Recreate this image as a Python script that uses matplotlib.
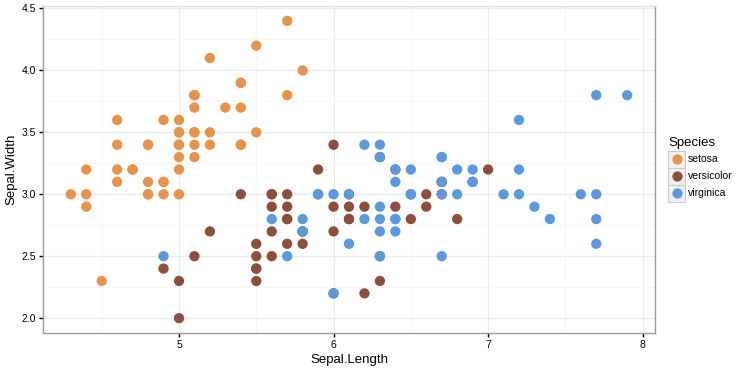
import matplotlib
matplotlib.use("Agg")
import matplotlib.pyplot as plt
from matplotlib.patches import Rectangle
from matplotlib.lines import Line2D
import numpy as np

plt.rcParams['font.family'] = ['Liberation Sans', 'DejaVu Sans']

species = ["setosa", "versicolor", "virginica"]
colors = ["#E8924A", "#8E4E3C", "#5A99DE"]

setosa_len = [5.1, 4.9, 4.7, 4.6, 5.0, 5.4, 4.6, 5.0, 4.4, 4.9, 5.4, 4.8, 4.8, 4.3, 5.8,
              5.7, 5.4, 5.1, 5.7, 5.1, 5.4, 5.1, 4.6, 5.1, 4.8, 5.0, 5.0, 5.2, 5.2, 4.7,
              4.8, 5.4, 5.2, 5.5, 4.9, 5.0, 5.5, 4.9, 4.4, 5.1, 5.0, 4.5, 4.4, 5.0, 5.1,
              4.8, 5.1, 4.6, 5.3, 5.0]
setosa_wid = [3.5, 3.0, 3.2, 3.1, 3.6, 3.9, 3.4, 3.4, 2.9, 3.1, 3.7, 3.4, 3.0, 3.0, 4.0,
              4.4, 3.9, 3.5, 3.8, 3.8, 3.4, 3.7, 3.6, 3.3, 3.4, 3.0, 3.4, 3.5, 3.4, 3.2,
              3.1, 3.4, 4.1, 4.2, 3.1, 3.2, 3.5, 3.6, 3.0, 3.4, 3.5, 2.3, 3.2, 3.5, 3.8,
              3.0, 3.8, 3.2, 3.7, 3.3]
versicolor_len = [7.0, 6.4, 6.9, 5.5, 6.5, 5.7, 6.3, 4.9, 6.6, 5.2, 5.0, 5.9, 6.0, 6.1, 5.6,
                  6.7, 5.6, 5.8, 6.2, 5.6, 5.9, 6.1, 6.3, 6.1, 6.4, 6.6, 6.8, 6.7, 6.0, 5.7,
                  5.5, 5.5, 5.8, 6.0, 5.4, 6.0, 6.7, 6.3, 5.6, 5.5, 5.5, 6.1, 5.8, 5.0, 5.6,
                  5.7, 5.7, 6.2, 5.1, 5.7]
versicolor_wid = [3.2, 3.2, 3.1, 2.3, 2.8, 2.8, 3.3, 2.4, 2.9, 2.7, 2.0, 3.0, 2.2, 2.9, 2.9,
                  3.1, 3.0, 2.7, 2.2, 2.5, 3.2, 2.8, 2.5, 2.8, 2.9, 3.0, 2.8, 3.0, 2.9, 2.6,
                  2.4, 2.4, 2.7, 2.7, 3.0, 3.4, 3.1, 2.3, 3.0, 2.5, 2.6, 3.0, 2.6, 2.3, 2.7,
                  3.0, 2.9, 2.9, 2.5, 2.8]
virginica_len = [6.3, 5.8, 7.1, 6.3, 6.5, 7.6, 4.9, 7.3, 6.7, 7.2, 6.5, 6.4, 6.8, 5.7, 5.8,
                 6.4, 6.5, 7.7, 7.7, 6.0, 6.9, 5.6, 7.7, 6.3, 6.7, 7.2, 6.2, 6.1, 6.4, 7.2,
                 7.4, 7.9, 6.4, 6.3, 6.1, 7.7, 6.3, 6.4, 6.0, 6.9, 6.7, 6.9, 5.8, 6.8, 6.7,
                 6.7, 6.3, 6.5, 6.2, 5.9]
virginica_wid = [3.3, 2.7, 3.0, 2.9, 3.0, 3.0, 2.5, 2.9, 2.5, 3.6, 3.2, 2.7, 3.0, 2.5, 2.8,
                 3.2, 3.0, 3.8, 2.6, 2.2, 3.2, 2.8, 2.8, 2.7, 3.3, 3.2, 2.8, 3.0, 2.8, 3.0,
                 2.8, 3.8, 2.8, 2.8, 2.6, 3.0, 3.4, 3.1, 3.0, 3.1, 3.1, 3.1, 2.7, 3.2, 3.3,
                 3.0, 2.5, 3.0, 3.4, 3.0]

x_ticks = [5, 6, 7, 8]
y_ticks = [2.0, 2.5, 3.0, 3.5, 4.0, 4.5]

W, H = 749, 369
fig = plt.figure(figsize=(W / 100, H / 100), dpi=100)
ax = fig.add_axes([43 / W, 1 - 333 / H, (655 - 43) / W, (333 - 6) / H])

groups = [(setosa_len, setosa_wid), (versicolor_len, versicolor_wid),
          (virginica_len, virginica_wid)]
for (xs, ys), c in zip(groups, colors):
    ax.scatter(xs, ys, s=55, color=c, edgecolors="none", zorder=3)

all_x = np.concatenate([g[0] for g in groups])
all_y = np.concatenate([g[1] for g in groups])
xr = all_x.max() - all_x.min()
yr = all_y.max() - all_y.min()
ax.set_xlim(all_x.min() - 0.05 * xr, all_x.max() + 0.05 * xr)
ax.set_ylim(all_y.min() - 0.05 * yr, all_y.max() + 0.05 * yr)

ax.set_xticks(x_ticks)
ax.set_xticklabels([str(v) for v in x_ticks])
ax.set_yticks(y_ticks)
ax.set_yticklabels([f"{v:.1f}" for v in y_ticks])
ax.set_xticks([4.5, 5.5, 6.5, 7.5], minor=True)
ax.set_yticks([2.25, 2.75, 3.25, 3.75, 4.25], minor=True)
ax.tick_params(which="major", length=3, width=1, color="black", labelsize=7.5,
               labelcolor="black", pad=2)
ax.tick_params(which="minor", length=0)
ax.grid(True, which="major", color="#EBEBEB", lw=0.8, zorder=0)
ax.grid(True, which="minor", color="#F5F5F5", lw=0.6, zorder=0)
ax.set_axisbelow(True)

for side in ["left", "bottom", "right"]:
    ax.spines[side].set_color("#9A9A9A")
    ax.spines[side].set_linewidth(1.0)
ax.spines["top"].set_color("#DDDDDD")
ax.spines["top"].set_linewidth(1.0)

ax.set_xlabel("Sepal.Length", fontsize=9.5, labelpad=3)
ax.set_ylabel("Sepal.Width", fontsize=9.5, labelpad=3)

# legend drawn in pixel positions
def fx(px):
    return px / W

def fy(py):
    return 1 - py / H

fig.text(fx(668), fy(143), "Species", fontsize=9.5, va="center", ha="left")
rows = [159, 176, 193]
for lab, c, cy in zip(species, colors, rows):
    fig.patches.append(Rectangle((fx(668), fy(cy + 8.5)), 17 / W, 17 / H,
                                 transform=fig.transFigure, facecolor="#F2F2F2",
                                 edgecolor="#CCCCCC", lw=0.8))
    fig.lines.append(Line2D([fx(676.5)], [fy(cy)], marker="o", markersize=7.4,
                            color=c, markeredgewidth=0, transform=fig.transFigure))
    fig.text(fx(688), fy(cy), lab, fontsize=7.5, va="center", ha="left")

fig.savefig("out.png", dpi=100)
